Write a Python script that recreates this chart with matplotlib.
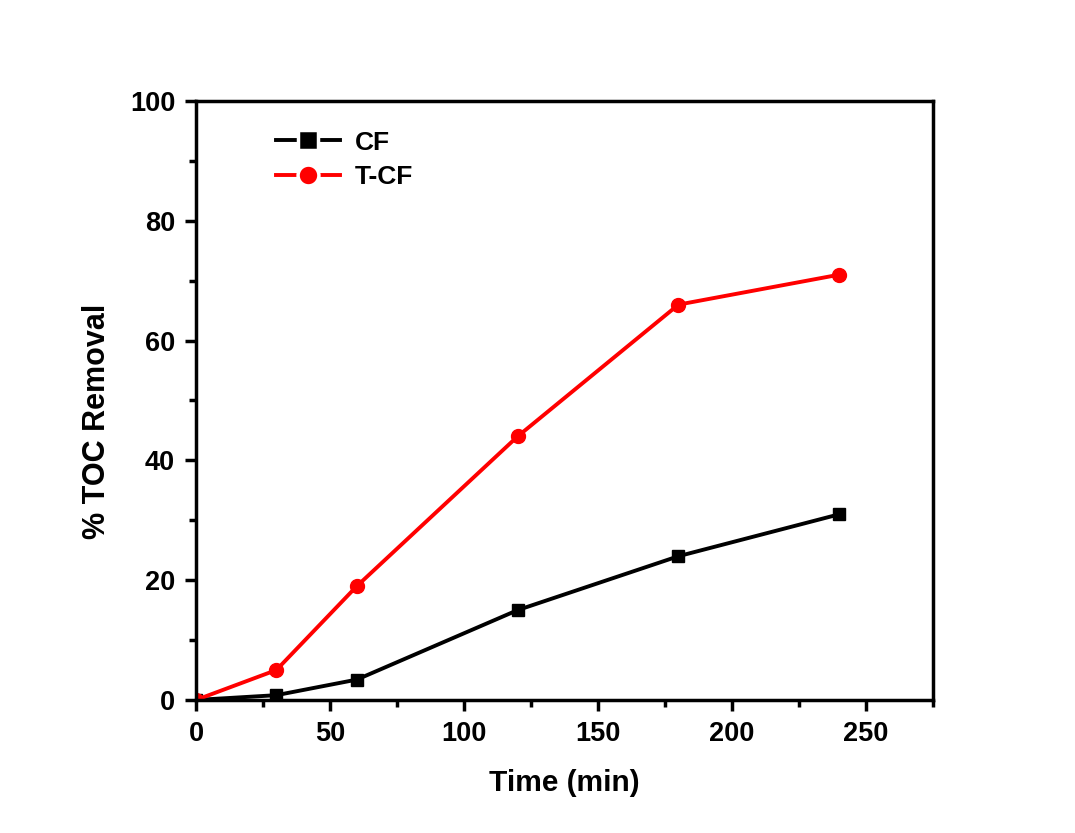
import matplotlib.pyplot as plt
from matplotlib.lines import Line2D

plt.rcParams['font.family'] = ['Liberation Sans', 'DejaVu Sans']
plt.rcParams['font.weight'] = 'bold'

time_min = [0, 30, 60, 120, 180, 240]
cf = [0, 0.8, 3.4, 15, 24, 31]
tcf = [0, 5, 19, 44, 66, 71]

fig = plt.figure(figsize=(10.75, 8.33), dpi=100)
ax = fig.add_axes([0.1823, 0.1597, 0.868 - 0.1823, 0.8788 - 0.1597])

ax.plot(time_min, cf, '-s', color='black', lw=2.8, ms=9)
ax.plot(time_min, tcf, '-o', color='red', lw=2.8, ms=10)

ax.set_xlim(0, 275)
ax.set_ylim(0, 100)
ax.set_xticks([0, 50, 100, 150, 200, 250])
ax.set_xticks([25, 75, 125, 175, 225, 275], minor=True)
ax.set_yticks([0, 20, 40, 60, 80, 100])
ax.set_yticks([10, 30, 50, 70, 90], minor=True)

for s in ax.spines.values():
    s.set_linewidth(2.5)
ax.tick_params(which='major', direction='out', length=8, width=2.5, labelsize=19.5, pad=7)
ax.tick_params(which='minor', direction='out', length=5, width=2.5)
for lab in ax.get_xticklabels() + ax.get_yticklabels():
    lab.set_fontweight('bold')

ax.set_xlabel('Time (min)', fontsize=21.5, fontweight='bold', labelpad=16)
ax.set_ylabel('% TOC Removal', fontsize=22, fontweight='bold')
ax.yaxis.set_label_coords(-0.114, 0.465)

# legend handles with a small gap between line and marker
handles = [
    Line2D([], [], color='black', lw=2.8, marker='s', ms=14, mfc='black',
           mec='white', mew=2.5),
    Line2D([], [], color='red', lw=2.8, marker='o', ms=15, mfc='red',
           mec='white', mew=2.5),
]
ax.legend(handles, ['CF', 'T-CF'], loc='upper left', bbox_to_anchor=(0.076, 0.99),
          frameon=False, prop={'size': 19, 'weight': 'bold'}, handlelength=2.45,
          handletextpad=0.55, labelspacing=0.4)

fig.savefig('out.png', dpi=100)
